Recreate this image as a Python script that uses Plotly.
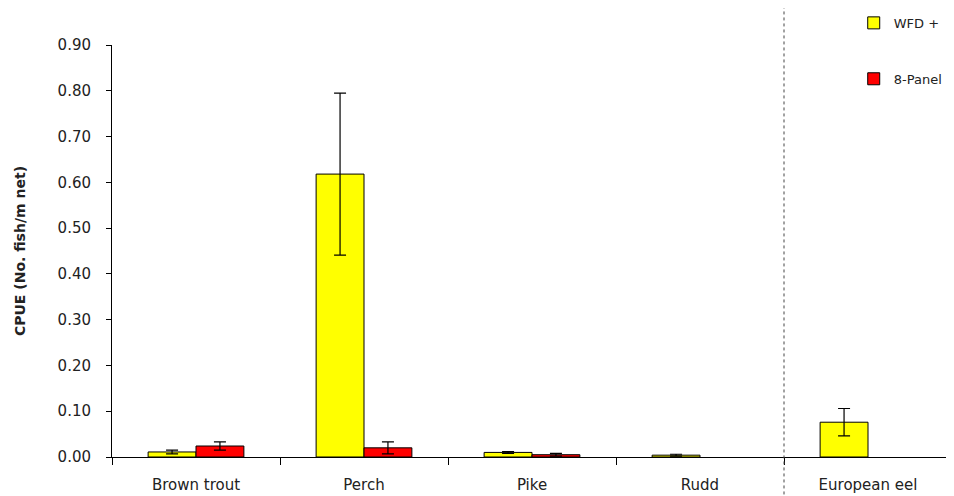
import plotly.graph_objects as go

categories = ["Brown trout", "Perch", "Pike", "Rudd", "European eel"]
wfd_values = [0.011, 0.618, 0.010, 0.004, 0.076]
wfd_errors = [0.004, 0.177, 0.002, 0.002, 0.030]
panel_values = [0.024, 0.020, 0.005, None, None]
panel_errors = [0.009, 0.013, 0.003, None, None]
y_ticks = [0.0, 0.1, 0.2, 0.3, 0.4, 0.5, 0.6, 0.7, 0.8, 0.9]

FONT = "DejaVu Sans"

fig = go.Figure()
fig.add_trace(go.Bar(
    name="WFD +", x=categories, y=wfd_values,
    marker=dict(color="#FFFF00", line=dict(color="black", width=1)),
    error_y=dict(type="data", array=wfd_errors, color="black", thickness=1.2, width=6),
    legendgroup="a",
))
fig.add_trace(go.Bar(
    name="8-Panel", x=categories, y=panel_values,
    marker=dict(color="#FF0000", line=dict(color="black", width=1)),
    error_y=dict(type="data", array=panel_errors, color="black", thickness=1.2, width=6),
    legendgroup="b",
))

fig.add_shape(type="line", xref="x", yref="paper", x0=3.5, x1=3.5, y0=-0.12, y1=1.1,
              line=dict(color="#444444", width=1, dash="dot"))

fig.update_layout(
    width=954, height=496,
    margin=dict(l=104, r=10, t=37, b=47, autoexpand=False),
    paper_bgcolor="white", plot_bgcolor="white",
    barmode="group", bargap=0.43, bargroupgap=0,
    font=dict(family=FONT, size=13, color="#222222"),
    showlegend=True,
    legend=dict(x=0.883, y=1.09, xanchor="left", yanchor="top", tracegroupgap=36,
                font=dict(family=FONT, size=13), bgcolor="rgba(0,0,0,0)"),
    xaxis=dict(showline=True, linecolor="black", linewidth=1, ticks="outside",
               tickson="boundaries", ticklen=7, tickcolor="black",
               ticklabelstandoff=14,
               tickfont=dict(family=FONT, size=15)),
    yaxis=dict(range=[0, 0.9], tickvals=y_ticks, tickformat=".2f", showgrid=False,
               showline=True, linecolor="black", linewidth=1, ticks="outside",
               ticklen=5, tickcolor="black", zeroline=False,
               ticklabelstandoff=12,
               title=dict(text="<b>CPUE (No. fish/m net)</b>", font=dict(family=FONT, size=14), standoff=28),
               tickfont=dict(family=FONT, size=15)),
)

fig.write_html("out.html")
